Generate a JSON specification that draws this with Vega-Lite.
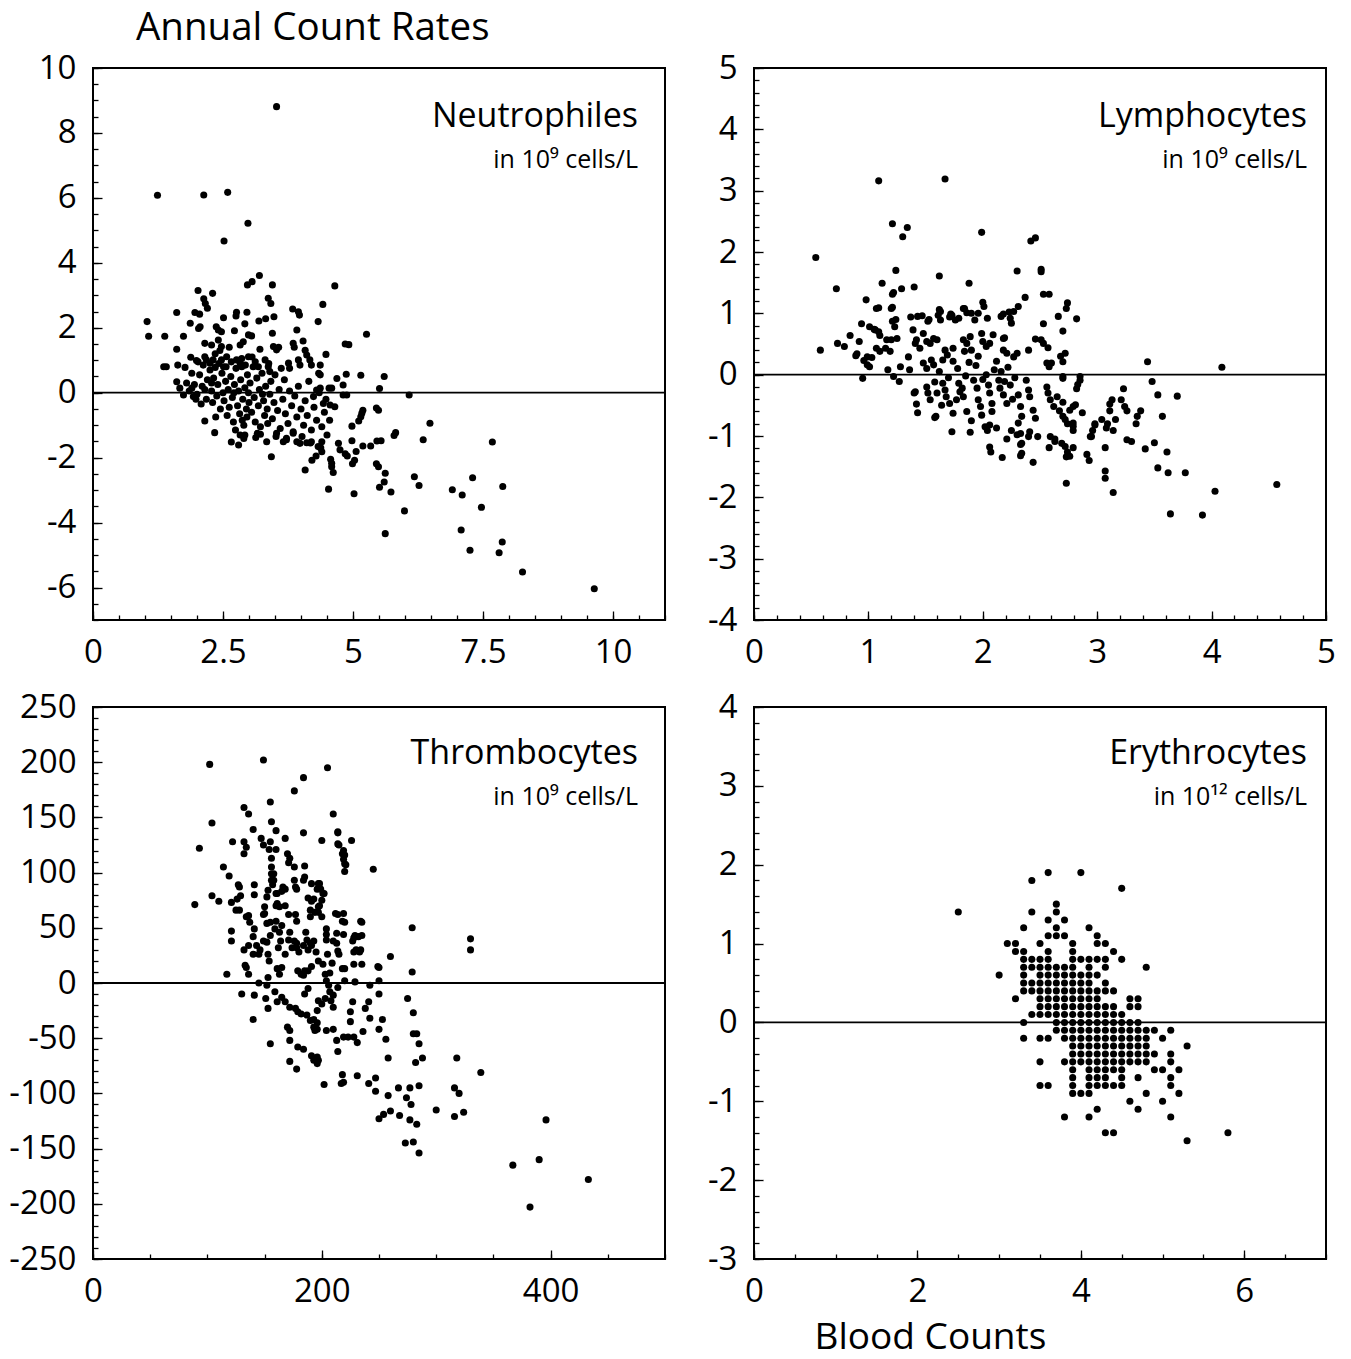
{
"$schema": "https://vega.github.io/schema/vega-lite/v6.json",
"padding": {"left": 7, "top": 7, "right": 5, "bottom": 5},
"config": {
  "font": "Open Sans",
  "view": {"stroke": "black", "strokeWidth": 2},
  "axis": {"domain": false, "grid": false, "tickColor": "black", "tickWidth": 1.3, "labelFont": "Open Sans", "labelFontSize": 33, "labelColor": "black", "labelFlush": false, "labelOverlap": false}
},
"datasets": {
"neutrophiles": [
{"count":3.53,"rate":8.81},{"count":1.24,"rate":6.08},{"count":2.13,"rate":6.09},{"count":2.59,"rate":6.17},{"count":2.98,"rate":5.22},{"count":2.52,"rate":4.67},{"count":3.2,"rate":3.61},{"count":2.97,"rate":3.32},{"count":3.06,"rate":3.42},{"count":3.45,"rate":3.32},{"count":4.65,"rate":3.29},{"count":2.02,"rate":3.15},{"count":2.3,"rate":3.06},{"count":2.13,"rate":2.89},{"count":2.16,"rate":2.75},{"count":3.37,"rate":2.91},{"count":3.42,"rate":2.75},{"count":4.42,"rate":2.72},{"count":3.84,"rate":2.58},{"count":3.97,"rate":2.39},{"count":1.61,"rate":2.47},{"count":1.96,"rate":2.47},{"count":2.51,"rate":2.31},{"count":2.76,"rate":2.48},{"count":2.96,"rate":2.48},{"count":3.19,"rate":2.21},{"count":3.32,"rate":2.28},{"count":3.48,"rate":2.34},{"count":4.33,"rate":2.19},{"count":1.04,"rate":2.19},{"count":1.07,"rate":1.74},{"count":1.38,"rate":1.74},{"count":1.74,"rate":1.74},{"count":5.26,"rate":1.8},{"count":4.85,"rate":1.5},{"count":4.92,"rate":1.48},{"count":1.61,"rate":1.34},{"count":1.36,"rate":0.8},{"count":1.41,"rate":0.8},{"count":5.15,"rate":0.54},{"count":5.6,"rate":0.5},{"count":5.51,"rate":0.13},{"count":6.08,"rate":-0.07},{"count":6.48,"rate":-0.94},{"count":6.35,"rate":-1.45},{"count":5.82,"rate":-1.23},{"count":5.79,"rate":-1.32},{"count":5.45,"rate":-0.47},{"count":5.49,"rate":-0.54},{"count":5.19,"rate":-0.54},{"count":5.15,"rate":-0.74},{"count":5.11,"rate":-0.87},{"count":4.98,"rate":-1.03},{"count":4.98,"rate":-1.48},{"count":5.06,"rate":-1.81},{"count":5.03,"rate":-2.08},{"count":4.99,"rate":-2.19},{"count":4.85,"rate":-1.88},{"count":4.89,"rate":-1.95},{"count":5.19,"rate":-1.64},{"count":5.34,"rate":-1.64},{"count":5.46,"rate":-1.49},{"count":5.54,"rate":-1.48},{"count":5.45,"rate":-2.19},{"count":5.49,"rate":-2.28},{"count":5.62,"rate":-2.48},{"count":5.6,"rate":-2.75},{"count":5.51,"rate":-2.91},{"count":5.73,"rate":-3.06},{"count":5.62,"rate":-4.34},{"count":5.99,"rate":-3.64},{"count":6.18,"rate":-2.59},{"count":6.27,"rate":-2.86},{"count":6.91,"rate":-2.99},{"count":7.1,"rate":-3.15},{"count":7.3,"rate":-2.62},{"count":7.68,"rate":-1.52},{"count":7.47,"rate":-3.53},{"count":7.88,"rate":-2.89},{"count":7.08,"rate":-4.23},{"count":7.25,"rate":-4.85},{"count":7.87,"rate":-4.6},{"count":7.81,"rate":-4.93},{"count":8.26,"rate":-5.52},{"count":9.64,"rate":-6.04},{"count":4.53,"rate":-2.97},{"count":5.02,"rate":-3.11},{"count":4.08,"rate":-2.38},{"count":4.21,"rate":-2.08},{"count":4.29,"rate":-1.95},{"count":4.59,"rate":-2.28},{"count":4.62,"rate":-2.46},{"count":4.57,"rate":-2.05},{"count":3.43,"rate":-1.97},{"count":2.15,"rate":-0.87},{"count":2.34,"rate":-1.23},{"count":2.66,"rate":-1.52},{"count":2.8,"rate":-1.61},{"count":2.9,"rate":-1.41},{"count":3.13,"rate":-1.38},{"count":3.22,"rate":-1.28},
{"count":2.2,"rate":2.6},{"count":2.05,"rate":2.42},{"count":2.75,"rate":2.36},{"count":3.95,"rate":2.49},{"count":1.87,"rate":2.14},{"count":2.06,"rate":2.03},{"count":2.03,"rate":1.98},{"count":2.37,"rate":2.03},{"count":2.41,"rate":1.93},{"count":2.47,"rate":1.88},{"count":2.72,"rate":1.91},{"count":2.92,"rate":2.12},{"count":2.99,"rate":1.78},{"count":3.05,"rate":1.75},{"count":3.45,"rate":1.83},{"count":3.92,"rate":1.93},{"count":2.15,"rate":1.52},{"count":2.28,"rate":1.47},{"count":2.41,"rate":1.62},{"count":2.47,"rate":1.42},{"count":2.62,"rate":1.4},{"count":2.83,"rate":1.47},{"count":2.89,"rate":1.57},{"count":3.21,"rate":1.34},{"count":3.47,"rate":1.42},{"count":3.53,"rate":1.32},{"count":3.57,"rate":1.4},{"count":3.85,"rate":1.52},{"count":3.87,"rate":1.4},{"count":4.04,"rate":1.59},{"count":4.08,"rate":1.31},{"count":4.11,"rate":1.16},{"count":4.48,"rate":1.18},{"count":1.63,"rate":0.85},{"count":1.77,"rate":0.78},{"count":1.88,"rate":1.09},{"count":1.99,"rate":0.99},{"count":2.15,"rate":1.11},{"count":2.18,"rate":1.01},{"count":2.25,"rate":0.91},{"count":2.31,"rate":1.01},{"count":2.35,"rate":0.78},{"count":2.47,"rate":1.01},{"count":2.51,"rate":0.8},{"count":2.57,"rate":1.11},{"count":2.76,"rate":1.01},{"count":2.83,"rate":0.91},{"count":2.86,"rate":0.8},{"count":2.99,"rate":1.11},{"count":3.12,"rate":0.95},{"count":3.18,"rate":0.8},{"count":3.31,"rate":1.01},{"count":3.37,"rate":0.8},{"count":3.4,"rate":0.65},{"count":3.76,"rate":0.91},{"count":3.78,"rate":0.75},{"count":3.95,"rate":1.01},{"count":3.98,"rate":0.85},{"count":4.17,"rate":1.01},{"count":4.2,"rate":0.85},{"count":4.37,"rate":0.85},{"count":4.34,"rate":0.6},{"count":4.37,"rate":0.55},{"count":4.69,"rate":0.44},{"count":4.87,"rate":0.57},{"count":4.81,"rate":0.24},{"count":4.54,"rate":0.14},{"count":4.59,"rate":0.14},{"count":4.81,"rate":-0.07},{"count":4.88,"rate":-0.07},{"count":4.3,"rate":0.08},{"count":4.37,"rate":0.14},{"count":1.61,"rate":0.34},{"count":1.67,"rate":0.14},{"count":1.74,"rate":-0.07},{"count":1.9,"rate":0.14},{"count":1.93,"rate":-0.12},{"count":2.92,"rate":-1.3},{"count":3.34,"rate":-1.51},{"count":3.53,"rate":-1.25},{"count":3.66,"rate":-1.51},{"count":3.72,"rate":-1.4},{"count":3.85,"rate":-1.25},{"count":3.92,"rate":-1.51},{"count":3.98,"rate":-1.56},{"count":4.11,"rate":-1.54},{"count":4.2,"rate":-1.51},{"count":4.33,"rate":-1.66},{"count":4.4,"rate":-1.51},{"count":4.4,"rate":-1.82},{"count":4.59,"rate":-2.17},{"count":4.72,"rate":-1.56},{"count":4.75,"rate":-1.76},{"count":5.17,"rate":-0.63},{"count":4.43,"rate":-0.33},{"count":4.56,"rate":-0.38},{"count":4.65,"rate":-0.43},{"count":4.24,"rate":-0.12},
{"count":1.8,"rate":0.3},{"count":1.85,"rate":0.05},{"count":1.95,"rate":0.25},{"count":2.0,"rate":-0.05},{"count":2.05,"rate":0.55},{"count":2.1,"rate":0.2},{"count":2.12,"rate":0.85},{"count":2.18,"rate":-0.2},{"count":2.2,"rate":0.4},{"count":1.9,"rate":0.6},{"count":2.02,"rate":0.95},{"count":2.15,"rate":0.1},{"count":1.98,"rate":-0.2},{"count":2.08,"rate":-0.35},{"count":2.25,"rate":0.7},{"count":2.28,"rate":0.05},{"count":2.3,"rate":-0.3},{"count":2.32,"rate":0.45},{"count":2.35,"rate":1.2},{"count":2.38,"rate":-0.1},{"count":2.4,"rate":0.25},{"count":2.42,"rate":0.9},{"count":2.45,"rate":-0.5},{"count":2.48,"rate":0.6},{"count":2.5,"rate":0.0},{"count":2.52,"rate":-0.25},{"count":2.55,"rate":0.35},{"count":2.58,"rate":-0.7},{"count":2.6,"rate":0.1},{"count":2.44,"rate":1.3},{"count":2.36,"rate":-0.75},{"count":2.56,"rate":0.8},{"count":2.62,"rate":-0.45},{"count":2.28,"rate":0.3},{"count":2.65,"rate":0.5},{"count":2.68,"rate":-0.15},{"count":2.7,"rate":-0.9},{"count":2.72,"rate":0.25},{"count":2.75,"rate":0.75},{"count":2.78,"rate":-0.4},{"count":2.8,"rate":0.05},{"count":2.82,"rate":-0.65},{"count":2.84,"rate":0.4},{"count":2.86,"rate":1.05},{"count":2.88,"rate":-0.2},{"count":2.9,"rate":-1.0},{"count":2.92,"rate":0.15},{"count":2.95,"rate":-0.5},{"count":2.97,"rate":0.55},{"count":3.0,"rate":-0.3},{"count":2.74,"rate":-1.15},{"count":2.66,"rate":0.95},{"count":2.93,"rate":0.85},{"count":2.99,"rate":0.0},{"count":2.83,"rate":-1.3},{"count":2.71,"rate":0.0},{"count":2.87,"rate":-0.85},{"count":2.96,"rate":-0.75},{"count":3.02,"rate":0.3},{"count":3.05,"rate":-0.6},{"count":3.08,"rate":0.8},{"count":3.1,"rate":-0.15},{"count":3.12,"rate":-0.9},{"count":3.15,"rate":0.45},{"count":3.18,"rate":-0.4},{"count":3.2,"rate":0.1},{"count":3.22,"rate":-1.05},{"count":3.25,"rate":0.6},{"count":3.28,"rate":-0.25},{"count":3.3,"rate":-0.7},{"count":3.32,"rate":0.2},{"count":3.35,"rate":-0.5},{"count":3.38,"rate":0.9},{"count":3.4,"rate":-0.05},{"count":3.06,"rate":1.1},{"count":3.16,"rate":-1.25},{"count":3.26,"rate":-0.05},{"count":3.36,"rate":-0.95},{"count":3.42,"rate":0.35},{"count":3.45,"rate":-0.8},{"count":3.48,"rate":-0.3},{"count":3.5,"rate":0.55},{"count":3.55,"rate":-0.55},{"count":3.58,"rate":0.1},{"count":3.6,"rate":-1.1},{"count":3.65,"rate":-0.2},{"count":3.68,"rate":0.4},{"count":3.7,"rate":-0.65},{"count":3.75,"rate":-0.95},{"count":3.78,"rate":0.05},{"count":3.82,"rate":-0.4},{"count":3.85,"rate":-1.2},{"count":3.88,"rate":-0.1},{"count":3.52,"rate":-1.35},{"count":3.62,"rate":0.75},{"count":3.72,"rate":-1.45},{"count":3.92,"rate":-0.75},{"count":3.95,"rate":0.2},{"count":4.0,"rate":-0.5},{"count":4.05,"rate":-1.0},{"count":4.08,"rate":-0.25},{"count":4.12,"rate":-0.7},{"count":4.15,"rate":0.35},{"count":4.2,"rate":-1.15},{"count":4.25,"rate":-0.45},{"count":4.3,"rate":-0.85},{"count":4.35,"rate":0.0},{"count":4.4,"rate":-1.05},{"count":4.45,"rate":-0.6},{"count":4.5,"rate":-1.3},{"count":4.55,"rate":-0.85},{"count":4.02,"rate":-1.35},{"count":4.18,"rate":-1.55},{"count":4.38,"rate":-1.7},{"count":4.48,"rate":-0.2}
],
"lymphocytes": [
{"count":1.09,"rate":3.16},{"count":1.67,"rate":3.19},{"count":0.54,"rate":1.91},{"count":1.21,"rate":2.46},{"count":1.34,"rate":2.4},{"count":1.3,"rate":2.25},{"count":1.99,"rate":2.32},{"count":2.42,"rate":2.18},{"count":2.46,"rate":2.23},{"count":0.72,"rate":1.4},{"count":1.12,"rate":1.49},{"count":1.24,"rate":1.7},{"count":1.29,"rate":1.4},{"count":1.21,"rate":1.31},{"count":1.4,"rate":1.43},{"count":1.62,"rate":1.61},{"count":1.88,"rate":1.49},{"count":2.3,"rate":1.69},{"count":2.51,"rate":1.68},{"count":2.51,"rate":1.72},{"count":2.53,"rate":1.31},{"count":2.58,"rate":1.31},{"count":2.37,"rate":1.26},{"count":0.98,"rate":1.22},{"count":2.0,"rate":1.18},{"count":2.01,"rate":1.11},{"count":2.31,"rate":1.11},{"count":2.27,"rate":1.03},{"count":2.74,"rate":1.17},{"count":2.73,"rate":1.08},{"count":2.82,"rate":0.91},{"count":2.66,"rate":0.95},{"count":2.7,"rate":0.71},{"count":0.58,"rate":0.4},{"count":0.73,"rate":0.51},{"count":0.79,"rate":0.46},{"count":0.84,"rate":0.64},{"count":0.89,"rate":0.31},{"count":0.94,"rate":0.83},{"count":0.95,"rate":-0.06},{"count":0.99,"rate":0.16},{"count":0.96,"rate":0.23},{"count":1.01,"rate":0.78},{"count":1.05,"rate":0.74},{"count":1.07,"rate":1.08},{"count":1.1,"rate":0.64},{"count":1.2,"rate":1.08},{"count":1.21,"rate":0.87},{"count":1.23,"rate":0.78},{"count":1.37,"rate":0.94},{"count":1.43,"rate":0.95},{"count":1.52,"rate":0.87},{"count":1.62,"rate":1.06},{"count":1.61,"rate":0.97},{"count":1.71,"rate":0.94},{"count":1.72,"rate":0.99},{"count":1.84,"rate":1.08},{"count":1.86,"rate":1.01},{"count":2.04,"rate":0.92},{"count":2.16,"rate":0.95},{"count":2.23,"rate":1.02},{"count":2.19,"rate":0.6},{"count":2.53,"rate":0.83},{"count":2.46,"rate":0.58},{"count":2.4,"rate":0.4},{"count":2.53,"rate":0.51},{"count":2.57,"rate":0.44},{"count":2.56,"rate":0.19},{"count":2.6,"rate":0.19},{"count":2.68,"rate":0.3},{"count":3.44,"rate":0.21},{"count":4.09,"rate":0.12},{"count":3.48,"rate":-0.11},{"count":3.53,"rate":-0.33},{"count":3.7,"rate":-0.35},{"count":3.57,"rate":-0.68},{"count":3.5,"rate":-1.11},{"count":3.42,"rate":-1.21},{"count":3.61,"rate":-1.26},{"count":3.53,"rate":-1.52},{"count":3.62,"rate":-1.6},{"count":3.77,"rate":-1.6},{"count":3.64,"rate":-2.27},{"count":3.92,"rate":-2.29},{"count":4.03,"rate":-1.9},{"count":4.57,"rate":-1.79},{"count":3.38,"rate":-0.59},{"count":3.35,"rate":-0.68},{"count":3.34,"rate":-0.8},{"count":3.26,"rate":-1.06},{"count":3.3,"rate":-1.09},{"count":3.23,"rate":-0.23},{"count":3.21,"rate":-0.41},{"count":3.24,"rate":-0.52},{"count":3.26,"rate":-0.59},{"count":3.13,"rate":-0.41},{"count":3.11,"rate":-0.48},{"count":3.11,"rate":-0.59},{"count":3.14,"rate":-0.91},{"count":3.16,"rate":-0.73},{"count":3.08,"rate":-0.87},{"count":3.09,"rate":-0.8},{"count":3.04,"rate":-0.73},{"count":2.98,"rate":-0.8},{"count":2.94,"rate":-1.01},{"count":2.96,"rate":-0.91},{"count":3.07,"rate":-1.19},{"count":3.07,"rate":-1.57},{"count":3.07,"rate":-1.69},{"count":3.14,"rate":-1.92},{"count":2.91,"rate":-1.3},{"count":2.93,"rate":-1.4},{"count":2.73,"rate":-1.77},{"count":2.76,"rate":-1.33},{"count":2.74,"rate":-1.26},{"count":2.79,"rate":-1.19},{"count":2.87,"rate":-0.62},{"count":2.85,"rate":-0.09},{"count":2.83,"rate":-0.16},{"count":2.82,"rate":-0.23},{"count":2.7,"rate":-0.06},{"count":2.7,"rate":-0.45},{"count":2.79,"rate":-0.52},{"count":2.79,"rate":-0.91},{"count":2.79,"rate":-0.84},{"count":2.74,"rate":-0.8},{"count":2.72,"rate":-0.73},{"count":2.67,"rate":-0.59},{"count":2.63,"rate":-1.05},{"count":2.69,"rate":-1.12},{"count":2.58,"rate":-1.19},{"count":2.44,"rate":-1.43},{"count":2.33,"rate":-1.32},{"count":2.33,"rate":-1.14},{"count":2.4,"rate":-1.01},{"count":2.3,"rate":-0.98},{"count":2.25,"rate":-0.91},{"count":2.17,"rate":-1.35},{"count":2.21,"rate":-1.05},{"count":2.06,"rate":-1.18},{"count":2.07,"rate":-1.26},{"count":2.12,"rate":-0.87},{"count":2.04,"rate":-0.91},{"count":1.89,"rate":-0.94},{"count":1.73,"rate":-0.93},{"count":1.58,"rate":-0.7},{"count":1.43,"rate":-0.62},{"count":1.42,"rate":-0.48},{"count":1.4,"rate":-0.3},
{"count":1.22,"rate":1.34},{"count":1.09,"rate":1.09},{"count":1.21,"rate":1.1},{"count":1.24,"rate":0.9},{"count":1.47,"rate":0.96},{"count":1.53,"rate":0.9},{"count":1.63,"rate":1.03},{"count":1.63,"rate":0.89},{"count":1.73,"rate":0.97},{"count":1.76,"rate":0.89},{"count":1.79,"rate":0.92},{"count":1.83,"rate":1.08},{"count":1.9,"rate":1.0},{"count":1.93,"rate":0.89},{"count":1.96,"rate":1.0},{"count":2.18,"rate":0.99},{"count":2.24,"rate":0.92},{"count":2.25,"rate":0.84},{"count":1.06,"rate":0.73},{"count":1.09,"rate":0.7},{"count":0.92,"rate":0.54},{"count":0.9,"rate":0.34},{"count":1.01,"rate":0.13},{"count":0.99,"rate":0.29},{"count":1.03,"rate":0.28},{"count":1.07,"rate":0.43},{"count":1.1,"rate":0.38},{"count":1.15,"rate":0.43},{"count":1.19,"rate":0.38},{"count":1.16,"rate":0.57},{"count":1.2,"rate":0.57},{"count":1.25,"rate":0.59},{"count":1.17,"rate":0.08},{"count":1.22,"rate":-0.03},{"count":1.27,"rate":-0.11},{"count":1.28,"rate":0.13},{"count":1.35,"rate":0.29},{"count":1.36,"rate":0.08},{"count":1.39,"rate":0.73},{"count":1.42,"rate":0.57},{"count":1.41,"rate":0.51},{"count":1.45,"rate":0.43},{"count":1.48,"rate":0.67},{"count":1.51,"rate":0.54},{"count":1.54,"rate":0.51},{"count":1.57,"rate":0.59},{"count":1.6,"rate":0.57},{"count":1.48,"rate":0.19},{"count":1.51,"rate":0.1},{"count":1.55,"rate":0.24},{"count":1.57,"rate":0.16},{"count":1.67,"rate":0.4},{"count":1.69,"rate":0.32},{"count":1.65,"rate":0.24},{"count":1.74,"rate":0.43},{"count":1.83,"rate":0.57},{"count":1.86,"rate":0.51},{"count":1.89,"rate":0.62},{"count":1.84,"rate":0.38},{"count":1.9,"rate":0.4},{"count":1.99,"rate":0.67},{"count":2.0,"rate":0.54},{"count":2.03,"rate":0.46},{"count":2.06,"rate":0.51},{"count":2.09,"rate":0.65},{"count":2.18,"rate":0.59},{"count":2.18,"rate":0.4},{"count":2.21,"rate":0.35},{"count":2.27,"rate":0.29},{"count":2.3,"rate":0.35},{"count":2.51,"rate":0.57},{"count":2.58,"rate":0.13},{"count":2.7,"rate":0.21},{"count":2.72,"rate":0.35},{"count":1.41,"rate":-0.28},{"count":1.51,"rate":-0.2},{"count":1.52,"rate":-0.3},{"count":1.54,"rate":-0.41},{"count":1.6,"rate":-0.3},{"count":1.59,"rate":-0.68},{"count":1.65,"rate":-0.14},{"count":1.67,"rate":-0.25},{"count":1.68,"rate":-0.36},{"count":1.71,"rate":-0.47},{"count":1.74,"rate":-0.63},{"count":1.79,"rate":-0.14},{"count":1.8,"rate":-0.28},{"count":1.83,"rate":-0.36},{"count":1.86,"rate":-0.6},{"count":1.77,"rate":-0.41},{"count":1.92,"rate":-0.09},{"count":1.95,"rate":-0.22},{"count":1.96,"rate":-0.41},{"count":1.98,"rate":-0.52},{"count":1.99,"rate":-0.66},{"count":2.03,"rate":0.0},{"count":2.05,"rate":-0.17},{"count":2.06,"rate":-0.3},{"count":2.08,"rate":-0.47},{"count":2.02,"rate":-0.85},{"count":2.06,"rate":-0.82},{"count":2.14,"rate":-0.09},{"count":2.15,"rate":-0.22},{"count":2.18,"rate":-0.33},{"count":2.21,"rate":-0.47},{"count":2.19,"rate":-0.11},{"count":2.24,"rate":-0.17},{"count":2.31,"rate":-0.33},{"count":2.33,"rate":-0.52},{"count":2.34,"rate":-0.68},{"count":2.31,"rate":-0.79},{"count":2.34,"rate":-1.12},{"count":2.34,"rate":-1.28},{"count":2.38,"rate":-0.09},{"count":2.4,"rate":-0.25},{"count":2.41,"rate":-0.36},{"count":2.44,"rate":-0.58},{"count":2.46,"rate":-0.71},{"count":2.41,"rate":-0.93},{"count":2.48,"rate":-1.01},{"count":2.56,"rate":-0.2},{"count":2.57,"rate":-0.3},{"count":2.59,"rate":-0.41},{"count":2.62,"rate":-0.52},{"count":2.65,"rate":-0.36},{"count":2.7,"rate":-0.68},{"count":2.76,"rate":-0.58},{"count":2.79,"rate":-0.79},{"count":2.7,"rate":-0.03},{"count":2.85,"rate":-0.03},{"count":2.81,"rate":-0.49},{"count":2.59,"rate":-1.01},{"count":2.63,"rate":-1.09},{"count":2.72,"rate":-1.17},{"count":2.73,"rate":-1.34},{"count":2.95,"rate":-1.01},{"count":2.98,"rate":-0.82},{"count":2.33,"rate":-0.96},
{"count":1.62,"rate":0.05},{"count":1.7,"rate":-0.05},{"count":1.78,"rate":0.1},{"count":1.85,"rate":-0.02},{"count":1.88,"rate":0.2},{"count":1.94,"rate":0.15},{"count":2.0,"rate":-0.08},{"count":2.1,"rate":0.08},{"count":2.12,"rate":0.22},{"count":2.16,"rate":0.05},{"count":2.22,"rate":0.12},{"count":2.28,"rate":-0.05},{"count":1.58,"rate":-0.12},{"count":1.74,"rate":0.22},{"count":1.82,"rate":-0.22},{"count":1.96,"rate":0.3},{"count":2.08,"rate":-0.6},{"count":2.26,"rate":-0.4},{"count":1.64,"rate":-0.5},{"count":1.9,"rate":-0.75}
],
"thrombocytes": [
{"count":102,"rate":198},{"count":149,"rate":202},{"count":205,"rate":195},{"count":184,"rate":186},{"count":176,"rate":174},{"count":155,"rate":164},{"count":104,"rate":145},{"count":132,"rate":159},{"count":136,"rate":153},{"count":210,"rate":153},{"count":93,"rate":122},{"count":122,"rate":128},{"count":132,"rate":128},{"count":134,"rate":123},{"count":132,"rate":117},{"count":140,"rate":139},{"count":147,"rate":131},{"count":149,"rate":125},{"count":155,"rate":128},{"count":154,"rate":121},{"count":160,"rate":121},{"count":156,"rate":113},{"count":168,"rate":131},{"count":170,"rate":117},{"count":172,"rate":113},{"count":171,"rate":109},{"count":184,"rate":136},{"count":200,"rate":129},{"count":214,"rate":136},{"count":215,"rate":125},{"count":218,"rate":117},{"count":219,"rate":112},{"count":220,"rate":101},{"count":221,"rate":107},{"count":226,"rate":129},{"count":245,"rate":103},{"count":156,"rate":105},{"count":156,"rate":99},{"count":114,"rate":105},{"count":119,"rate":97},{"count":89,"rate":71},{"count":104,"rate":79},{"count":110,"rate":74},{"count":121,"rate":73},{"count":125,"rate":66},{"count":127,"rate":89},{"count":129,"rate":79},{"count":134,"rate":60},{"count":137,"rate":55},{"count":141,"rate":49},{"count":141,"rate":89},{"count":121,"rate":47},{"count":121,"rate":38},{"count":150,"rate":69},{"count":149,"rate":62},{"count":152,"rate":54},{"count":156,"rate":93},{"count":157,"rate":89},{"count":160,"rate":81},{"count":160,"rate":70},{"count":165,"rate":83},{"count":168,"rate":70},{"count":171,"rate":62},{"count":176,"rate":105},{"count":176,"rate":93},{"count":178,"rate":85},{"count":177,"rate":62},{"count":178,"rate":56},{"count":184,"rate":93},{"count":188,"rate":77},{"count":190,"rate":66},{"count":191,"rate":74},{"count":197,"rate":90},{"count":199,"rate":85},{"count":201,"rate":81},{"count":198,"rate":70},{"count":197,"rate":64},{"count":200,"rate":60},{"count":204,"rate":44},{"count":210,"rate":38},{"count":213,"rate":36},{"count":215,"rate":26},{"count":218,"rate":13},{"count":214,"rate":62},{"count":218,"rate":56},{"count":228,"rate":41},{"count":232,"rate":42},{"count":234,"rate":30},{"count":228,"rate":28},{"count":234,"rate":56},{"count":134,"rate":14},{"count":132,"rate":30},{"count":117,"rate":8},{"count":140,"rate":42},{"count":143,"rate":34},{"count":145,"rate":26},{"count":149,"rate":38},{"count":153,"rate":26},{"count":154,"rate":20},{"count":160,"rate":56},{"count":163,"rate":46},{"count":164,"rate":38},{"count":162,"rate":32},{"count":168,"rate":26},{"count":172,"rate":46},{"count":176,"rate":38},{"count":178,"rate":32},{"count":180,"rate":28},{"count":184,"rate":34},{"count":186,"rate":46},{"count":188,"rate":30},{"count":191,"rate":34},{"count":193,"rate":38},{"count":195,"rate":28},{"count":197,"rate":20},{"count":191,"rate":15},{"count":188,"rate":11},{"count":184,"rate":7},{"count":205,"rate":26},{"count":209,"rate":18},{"count":207,"rate":9},{"count":219,"rate":44},{"count":227,"rate":38},{"count":249,"rate":15},{"count":260,"rate":24},{"count":279,"rate":50},{"count":279,"rate":10},{"count":330,"rate":40},{"count":330,"rate":30},{"count":339,"rate":-81},{"count":367,"rate":-165},{"count":390,"rate":-160},{"count":396,"rate":-124},{"count":382,"rate":-203},{"count":433,"rate":-178},
{"count":156,"rate":146},{"count":160,"rate":138},{"count":185,"rate":106},{"count":185,"rate":96},{"count":158,"rate":99},{"count":158,"rate":93},{"count":153,"rate":84},{"count":152,"rate":78},{"count":161,"rate":81},{"count":166,"rate":87},{"count":168,"rate":85},{"count":177,"rate":87},{"count":150,"rate":63},{"count":155,"rate":55},{"count":161,"rate":72},{"count":163,"rate":69},{"count":136,"rate":34},{"count":140,"rate":26},{"count":146,"rate":30},{"count":152,"rate":37},{"count":155,"rate":43},{"count":159,"rate":49},{"count":165,"rate":52},{"count":171,"rate":39},{"count":174,"rate":32},{"count":178,"rate":36},{"count":187,"rate":39},{"count":190,"rate":36},{"count":191,"rate":90},{"count":196,"rate":85},{"count":198,"rate":90},{"count":202,"rate":81},{"count":200,"rate":75},{"count":197,"rate":69},{"count":194,"rate":64},{"count":190,"rate":60},{"count":193,"rate":76},{"count":204,"rate":49},{"count":204,"rate":39},{"count":213,"rate":45},{"count":214,"rate":29},{"count":212,"rate":63},{"count":219,"rate":63},{"count":220,"rate":55},{"count":229,"rate":43},{"count":235,"rate":43},{"count":235,"rate":55},{"count":230,"rate":30},{"count":233,"rate":28},{"count":214,"rate":137},{"count":214,"rate":126},{"count":219,"rate":120},{"count":220,"rate":116},{"count":220,"rate":108},{"count":128,"rate":87},{"count":126,"rate":76},{"count":128,"rate":66},{"count":141,"rate":80},{"count":136,"rate":61},
{"count":130,"rate":-10},{"count":141,"rate":-11},{"count":140,"rate":-33},{"count":136,"rate":8},{"count":133,"rate":16},{"count":145,"rate":0},{"count":152,"rate":-2},{"count":153,"rate":5},{"count":151,"rate":-14},{"count":153,"rate":-23},{"count":155,"rate":-55},{"count":159,"rate":-8},{"count":161,"rate":-17},{"count":165,"rate":-13},{"count":163,"rate":8},{"count":165,"rate":14},{"count":161,"rate":13},{"count":168,"rate":-17},{"count":172,"rate":-22},{"count":177,"rate":-23},{"count":179,"rate":-26},{"count":182,"rate":-28},{"count":170,"rate":-40},{"count":172,"rate":-43},{"count":172,"rate":-52},{"count":172,"rate":-71},{"count":178,"rate":-78},{"count":179,"rate":-58},{"count":184,"rate":-60},{"count":187,"rate":-29},{"count":190,"rate":-34},{"count":193,"rate":-33},{"count":196,"rate":-36},{"count":193,"rate":-40},{"count":194,"rate":-43},{"count":196,"rate":-42},{"count":191,"rate":-66},{"count":193,"rate":-70},{"count":196,"rate":-67},{"count":197,"rate":-70},{"count":196,"rate":-73},{"count":185,"rate":-10},{"count":188,"rate":-5},{"count":185,"rate":11},{"count":182,"rate":8},{"count":179,"rate":11},{"count":196,"rate":-25},{"count":201,"rate":17},{"count":203,"rate":8},{"count":204,"rate":2},{"count":206,"rate":-2},{"count":207,"rate":-8},{"count":210,"rate":-11},{"count":208,"rate":-16},{"count":197,"rate":-16},{"count":200,"rate":-19},{"count":203,"rate":-14},{"count":210,"rate":-22},{"count":210,"rate":-42},{"count":204,"rate":-43},{"count":213,"rate":-52},{"count":214,"rate":-62},{"count":202,"rate":-92},{"count":220,"rate":13},{"count":220,"rate":2},{"count":214,"rate":-4},{"count":229,"rate":1},{"count":228,"rate":17},{"count":235,"rate":17},{"count":242,"rate":-2},{"count":250,"rate":14},{"count":250,"rate":2},{"count":227,"rate":-17},{"count":225,"rate":-26},{"count":225,"rate":-35},{"count":241,"rate":-17},{"count":238,"rate":-23},{"count":242,"rate":-32},{"count":250,"rate":-10},{"count":236,"rate":-44},{"count":250,"rate":-42},{"count":253,"rate":-33},{"count":256,"rate":-51},{"count":258,"rate":-68},{"count":219,"rate":-49},{"count":223,"rate":-49},{"count":228,"rate":-49},{"count":231,"rate":-54},{"count":218,"rate":-83},{"count":217,"rate":-91},{"count":219,"rate":-90},{"count":231,"rate":-84},{"count":241,"rate":-91},{"count":247,"rate":-98},{"count":247,"rate":-86},{"count":258,"rate":-102},{"count":250,"rate":-123},{"count":254,"rate":-119},{"count":260,"rate":-116},{"count":267,"rate":-95},{"count":268,"rate":-120},{"count":274,"rate":-104},{"count":277,"rate":-95},{"count":278,"rate":-110},{"count":277,"rate":-124},{"count":283,"rate":-128},{"count":285,"rate":-93},{"count":273,"rate":-145},{"count":280,"rate":-144},{"count":285,"rate":-154},{"count":275,"rate":-14},{"count":280,"rate":-27},{"count":280,"rate":-46},{"count":283,"rate":-46},{"count":285,"rate":-55},{"count":282,"rate":-72},{"count":288,"rate":-68},{"count":300,"rate":-115},{"count":316,"rate":-95},{"count":320,"rate":-100},{"count":316,"rate":-121},{"count":324,"rate":-117},{"count":318,"rate":-68}
],
"erythrocytes": [
{"count":2.5,"rate":1.4},{"count":3.0,"rate":0.6},{"count":3.1,"rate":1.0},{"count":3.2,"rate":1.0},{"count":3.2,"rate":0.9},{"count":3.2,"rate":0.3},
{"count":3.3,"rate":1.2},{"count":3.3,"rate":0.9},{"count":3.3,"rate":0.8},{"count":3.3,"rate":0.7},{"count":3.3,"rate":0.6},{"count":3.3,"rate":0.5},{"count":3.3,"rate":0.4},{"count":3.3,"rate":0.0},{"count":3.3,"rate":-0.2},
{"count":3.4,"rate":1.8},{"count":3.4,"rate":1.4},{"count":3.4,"rate":0.8},{"count":3.4,"rate":0.7},{"count":3.4,"rate":0.5},{"count":3.4,"rate":0.4},{"count":3.4,"rate":0.1},
{"count":3.5,"rate":1.0},{"count":3.5,"rate":0.8},{"count":3.5,"rate":0.7},{"count":3.5,"rate":0.6},{"count":3.5,"rate":0.5},{"count":3.5,"rate":0.4},{"count":3.5,"rate":0.3},{"count":3.5,"rate":0.2},{"count":3.5,"rate":0.1},{"count":3.5,"rate":-0.2},{"count":3.5,"rate":-0.5},{"count":3.5,"rate":-0.8},
{"count":3.6,"rate":1.9},{"count":3.6,"rate":1.3},{"count":3.6,"rate":1.1},{"count":3.6,"rate":0.9},{"count":3.6,"rate":0.8},{"count":3.6,"rate":0.7},{"count":3.6,"rate":0.6},{"count":3.6,"rate":0.5},{"count":3.6,"rate":0.4},{"count":3.6,"rate":0.3},{"count":3.6,"rate":0.2},{"count":3.6,"rate":0.1},{"count":3.6,"rate":-0.2},{"count":3.6,"rate":-0.8},
{"count":3.7,"rate":1.5},{"count":3.7,"rate":1.4},{"count":3.7,"rate":1.2},{"count":3.7,"rate":1.1},{"count":3.7,"rate":0.7},{"count":3.7,"rate":0.6},{"count":3.7,"rate":0.5},{"count":3.7,"rate":0.4},{"count":3.7,"rate":0.3},{"count":3.7,"rate":0.2},{"count":3.7,"rate":0.1},{"count":3.7,"rate":0.0},{"count":3.7,"rate":-0.1},
{"count":3.8,"rate":1.3},{"count":3.8,"rate":1.1},{"count":3.8,"rate":0.7},{"count":3.8,"rate":0.6},{"count":3.8,"rate":0.5},{"count":3.8,"rate":0.4},{"count":3.8,"rate":0.3},{"count":3.8,"rate":0.2},{"count":3.8,"rate":0.1},{"count":3.8,"rate":0.0},{"count":3.8,"rate":-0.1},{"count":3.8,"rate":-0.2},{"count":3.8,"rate":-0.5},{"count":3.8,"rate":-1.2},
{"count":3.9,"rate":1.0},{"count":3.9,"rate":0.9},{"count":3.9,"rate":0.8},{"count":3.9,"rate":0.7},{"count":3.9,"rate":0.6},{"count":3.9,"rate":0.5},{"count":3.9,"rate":0.4},{"count":3.9,"rate":0.3},{"count":3.9,"rate":0.2},{"count":3.9,"rate":0.1},{"count":3.9,"rate":0.0},{"count":3.9,"rate":-0.1},{"count":3.9,"rate":-0.2},{"count":3.9,"rate":-0.3},{"count":3.9,"rate":-0.4},{"count":3.9,"rate":-0.5},{"count":3.9,"rate":-0.6},{"count":3.9,"rate":-0.7},{"count":3.9,"rate":-0.8},{"count":3.9,"rate":-0.9},
{"count":4.0,"rate":1.9},{"count":4.0,"rate":0.8},{"count":4.0,"rate":0.6},{"count":4.0,"rate":0.5},{"count":4.0,"rate":0.4},{"count":4.0,"rate":0.3},{"count":4.0,"rate":0.2},{"count":4.0,"rate":0.1},{"count":4.0,"rate":0.0},{"count":4.0,"rate":-0.1},{"count":4.0,"rate":-0.2},{"count":4.0,"rate":-0.3},{"count":4.0,"rate":-0.4},{"count":4.0,"rate":-0.5},{"count":4.0,"rate":-0.9},
{"count":4.1,"rate":1.2},{"count":4.1,"rate":0.8},{"count":4.1,"rate":0.7},{"count":4.1,"rate":0.6},{"count":4.1,"rate":0.5},{"count":4.1,"rate":0.4},{"count":4.1,"rate":0.3},{"count":4.1,"rate":0.2},{"count":4.1,"rate":0.1},{"count":4.1,"rate":0.0},{"count":4.1,"rate":-0.1},{"count":4.1,"rate":-0.2},{"count":4.1,"rate":-0.3},{"count":4.1,"rate":-0.4},{"count":4.1,"rate":-0.5},{"count":4.1,"rate":-0.6},{"count":4.1,"rate":-0.7},{"count":4.1,"rate":-0.8},{"count":4.1,"rate":-0.9},{"count":4.1,"rate":-1.2},
{"count":4.2,"rate":1.1},{"count":4.2,"rate":1.0},{"count":4.2,"rate":0.8},{"count":4.2,"rate":0.6},{"count":4.2,"rate":0.4},{"count":4.2,"rate":0.3},{"count":4.2,"rate":0.2},{"count":4.2,"rate":0.1},{"count":4.2,"rate":0.0},{"count":4.2,"rate":-0.1},{"count":4.2,"rate":-0.2},{"count":4.2,"rate":-0.3},{"count":4.2,"rate":-0.4},{"count":4.2,"rate":-0.5},{"count":4.2,"rate":-0.6},{"count":4.2,"rate":-0.7},{"count":4.2,"rate":-0.8},{"count":4.2,"rate":-1.1},
{"count":4.3,"rate":1.0},{"count":4.3,"rate":0.8},{"count":4.3,"rate":0.7},{"count":4.3,"rate":0.5},{"count":4.3,"rate":0.4},{"count":4.3,"rate":0.2},{"count":4.3,"rate":0.1},{"count":4.3,"rate":0.0},{"count":4.3,"rate":-0.1},{"count":4.3,"rate":-0.2},{"count":4.3,"rate":-0.3},{"count":4.3,"rate":-0.4},{"count":4.3,"rate":-0.5},{"count":4.3,"rate":-0.6},{"count":4.3,"rate":-0.7},{"count":4.3,"rate":-0.8},{"count":4.3,"rate":-1.4},
{"count":4.4,"rate":0.9},{"count":4.4,"rate":0.4},{"count":4.4,"rate":0.2},{"count":4.4,"rate":0.1},{"count":4.4,"rate":0.0},{"count":4.4,"rate":-0.1},{"count":4.4,"rate":-0.2},{"count":4.4,"rate":-0.3},{"count":4.4,"rate":-0.4},{"count":4.4,"rate":-0.5},{"count":4.4,"rate":-0.6},{"count":4.4,"rate":-0.8},{"count":4.4,"rate":-1.4},
{"count":4.5,"rate":1.7},{"count":4.5,"rate":0.8},{"count":4.5,"rate":0.1},{"count":4.5,"rate":0.0},{"count":4.5,"rate":-0.1},{"count":4.5,"rate":-0.2},{"count":4.5,"rate":-0.3},{"count":4.5,"rate":-0.4},{"count":4.5,"rate":-0.5},{"count":4.5,"rate":-0.6},{"count":4.5,"rate":-0.7},{"count":4.5,"rate":-0.8},
{"count":4.6,"rate":0.3},{"count":4.6,"rate":0.2},{"count":4.6,"rate":0.0},{"count":4.6,"rate":-0.1},{"count":4.6,"rate":-0.2},{"count":4.6,"rate":-0.3},{"count":4.6,"rate":-0.4},{"count":4.6,"rate":-0.5},{"count":4.6,"rate":-1.0},
{"count":4.7,"rate":0.3},{"count":4.7,"rate":0.2},{"count":4.7,"rate":0.0},{"count":4.7,"rate":-0.1},{"count":4.7,"rate":-0.2},{"count":4.7,"rate":-0.3},{"count":4.7,"rate":-0.4},{"count":4.7,"rate":-0.5},{"count":4.7,"rate":-0.7},{"count":4.7,"rate":-1.1},
{"count":4.8,"rate":0.7},{"count":4.8,"rate":-0.1},{"count":4.8,"rate":-0.2},{"count":4.8,"rate":-0.3},{"count":4.8,"rate":-0.4},{"count":4.8,"rate":-0.5},{"count":4.8,"rate":-0.9},
{"count":4.9,"rate":-0.1},{"count":4.9,"rate":-0.4},{"count":4.9,"rate":-0.6},
{"count":5.0,"rate":-0.2},{"count":5.0,"rate":-0.6},{"count":5.0,"rate":-1.0},
{"count":5.1,"rate":-0.1},{"count":5.1,"rate":-0.4},{"count":5.1,"rate":-0.5},{"count":5.1,"rate":-0.7},{"count":5.1,"rate":-0.8},{"count":5.1,"rate":-1.2},
{"count":5.2,"rate":-0.6},{"count":5.2,"rate":-0.9},{"count":5.3,"rate":-0.3},{"count":5.3,"rate":-1.5},{"count":5.8,"rate":-1.4}
]
},
"concat": [
{
  "width": 572, "height": 552,
  "title": {"text": "Annual Count Rates", "anchor": "start", "frame": "group", "dx": 43, "fontSize": 38.5, "fontWeight": "normal", "font": "Open Sans", "color": "black", "baseline": "alphabetic", "offset": -26},
  "layer": [
    {"data": {"name": "neutrophiles"}, "mark": {"type": "circle", "size": 50, "color": "black", "opacity": 1},
     "encoding": {
       "x": {"field": "count", "type": "quantitative", "scale": {"domain": [0, 11], "nice": false, "zero": false}, "axis": {"orient": "bottom", "values": [0,0.5,1,1.5,2,2.5,3,3.5,4,4.5,5,5.5,6,6.5,7,7.5,8,8.5,9,9.5,10,10.5,11], "labels": false, "tickSize": -5, "title": null}},
       "y": {"field": "rate", "type": "quantitative", "scale": {"domain": [-7, 10], "nice": false, "zero": false}, "axis": {"orient": "left", "values": [-7,-6.5,-6,-5.5,-5,-4.5,-4,-3.5,-3,-2.5,-2,-1.5,-1,-0.5,0,0.5,1,1.5,2,2.5,3,3.5,4,4.5,5,5.5,6,6.5,7,7.5,8,8.5,9,9.5,10], "labels": false, "tickSize": -5, "title": null}}
     }},
    {"data": {"values": [{}]}, "mark": {"type": "rule", "color": "black", "strokeWidth": 1.8},
     "encoding": {
       "x": {"datum": 0, "type": "quantitative", "scale": {"domain": [0, 11], "nice": false, "zero": false}, "axis": {"orient": "bottom", "values": [0,2.5,5,7.5,10], "tickSize": -9, "labelPadding": 25, "labelExpr": "'' + datum.value", "title": null}},
       "x2": {"datum": 11},
       "y": {"datum": 0, "type": "quantitative", "scale": {"domain": [-7, 10], "nice": false, "zero": false}, "axis": {"orient": "left", "values": [-6,-4,-2,0,2,4,6,8,10], "tickSize": -9, "labelPadding": 26, "labelExpr": "'' + datum.value", "title": null}}
     }},
    {"data": {"values": [{"label": "Neutrophiles"}]}, "mark": {"type": "text", "align": "right", "baseline": "alphabetic", "dx": -27, "dy": 59, "fontSize": 34, "font": "Open Sans", "color": "black"},
     "encoding": {"x": {"datum": 11, "type": "quantitative", "axis": null}, "y": {"datum": 10, "type": "quantitative", "axis": null}, "text": {"field": "label"}}},
    {"data": {"values": [{"label": "in 10⁹ cells/L"}]}, "mark": {"type": "text", "align": "right", "baseline": "alphabetic", "dx": -27, "dy": 100, "fontSize": 25, "font": "Open Sans", "color": "black"},
     "encoding": {"x": {"datum": 11, "type": "quantitative", "axis": null}, "y": {"datum": 10, "type": "quantitative", "axis": null}, "text": {"field": "label"}}}
  ],
  "resolve": {"axis": {"x": "independent", "y": "independent"}}
},
{
  "width": 572, "height": 552,
  "layer": [
    {"data": {"name": "lymphocytes"}, "mark": {"type": "circle", "size": 50, "color": "black", "opacity": 1},
     "encoding": {
       "x": {"field": "count", "type": "quantitative", "scale": {"domain": [0, 5], "nice": false, "zero": false}, "axis": {"orient": "bottom", "values": [0,0.2,0.4,0.6,0.8,1,1.2,1.4,1.6,1.8,2,2.2,2.4,2.6,2.8,3,3.2,3.4,3.6,3.8,4,4.2,4.4,4.6,4.8,5], "labels": false, "tickSize": -5, "title": null}},
       "y": {"field": "rate", "type": "quantitative", "scale": {"domain": [-4, 5], "nice": false, "zero": false}, "axis": {"orient": "left", "values": [-4,-3.8,-3.6,-3.4,-3.2,-3,-2.8,-2.6,-2.4,-2.2,-2,-1.8,-1.6,-1.4,-1.2,-1,-0.8,-0.6,-0.4,-0.2,0,0.2,0.4,0.6,0.8,1,1.2,1.4,1.6,1.8,2,2.2,2.4,2.6,2.8,3,3.2,3.4,3.6,3.8,4,4.2,4.4,4.6,4.8,5], "labels": false, "tickSize": -5, "title": null}}
     }},
    {"data": {"values": [{}]}, "mark": {"type": "rule", "color": "black", "strokeWidth": 1.8},
     "encoding": {
       "x": {"datum": 0, "type": "quantitative", "scale": {"domain": [0, 5], "nice": false, "zero": false}, "axis": {"orient": "bottom", "values": [0,1,2,3,4,5], "tickSize": -9, "labelPadding": 25, "labelExpr": "'' + datum.value", "title": null}},
       "x2": {"datum": 5},
       "y": {"datum": 0, "type": "quantitative", "scale": {"domain": [-4, 5], "nice": false, "zero": false}, "axis": {"orient": "left", "values": [-4,-3,-2,-1,0,1,2,3,4,5], "tickSize": -9, "labelPadding": 26, "labelExpr": "'' + datum.value", "title": null}}
     }},
    {"data": {"values": [{"label": "Lymphocytes"}]}, "mark": {"type": "text", "align": "right", "baseline": "alphabetic", "dx": -19, "dy": 59, "fontSize": 34, "font": "Open Sans", "color": "black"},
     "encoding": {"x": {"datum": 5, "type": "quantitative", "axis": null}, "y": {"datum": 5, "type": "quantitative", "axis": null}, "text": {"field": "label"}}},
    {"data": {"values": [{"label": "in 10⁹ cells/L"}]}, "mark": {"type": "text", "align": "right", "baseline": "alphabetic", "dx": -19, "dy": 100, "fontSize": 25, "font": "Open Sans", "color": "black"},
     "encoding": {"x": {"datum": 5, "type": "quantitative", "axis": null}, "y": {"datum": 5, "type": "quantitative", "axis": null}, "text": {"field": "label"}}}
  ],
  "resolve": {"axis": {"x": "independent", "y": "independent"}}
},
{
  "width": 572, "height": 552,
  "layer": [
    {"data": {"name": "thrombocytes"}, "mark": {"type": "circle", "size": 50, "color": "black", "opacity": 1},
     "encoding": {
       "x": {"field": "count", "type": "quantitative", "scale": {"domain": [0, 500], "nice": false, "zero": false}, "axis": {"orient": "bottom", "values": [0,50,100,150,200,250,300,350,400,450,500], "labels": false, "tickSize": -5, "title": null}},
       "y": {"field": "rate", "type": "quantitative", "scale": {"domain": [-250, 250], "nice": false, "zero": false}, "axis": {"orient": "left", "values": [-250,-240,-230,-220,-210,-200,-190,-180,-170,-160,-150,-140,-130,-120,-110,-100,-90,-80,-70,-60,-50,-40,-30,-20,-10,0,10,20,30,40,50,60,70,80,90,100,110,120,130,140,150,160,170,180,190,200,210,220,230,240,250], "labels": false, "tickSize": -5, "title": null}}
     }},
    {"data": {"values": [{}]}, "mark": {"type": "rule", "color": "black", "strokeWidth": 1.8},
     "encoding": {
       "x": {"datum": 0, "type": "quantitative", "scale": {"domain": [0, 500], "nice": false, "zero": false}, "axis": {"orient": "bottom", "values": [0,200,400], "tickSize": -9, "labelPadding": 25, "labelExpr": "'' + datum.value", "title": null}},
       "x2": {"datum": 500},
       "y": {"datum": 0, "type": "quantitative", "scale": {"domain": [-250, 250], "nice": false, "zero": false}, "axis": {"orient": "left", "values": [-250,-200,-150,-100,-50,0,50,100,150,200,250], "tickSize": -9, "labelPadding": 26, "labelExpr": "'' + datum.value", "title": null}}
     }},
    {"data": {"values": [{"label": "Thrombocytes"}]}, "mark": {"type": "text", "align": "right", "baseline": "alphabetic", "dx": -27, "dy": 57, "fontSize": 34, "font": "Open Sans", "color": "black"},
     "encoding": {"x": {"datum": 500, "type": "quantitative", "axis": null}, "y": {"datum": 250, "type": "quantitative", "axis": null}, "text": {"field": "label"}}},
    {"data": {"values": [{"label": "in 10⁹ cells/L"}]}, "mark": {"type": "text", "align": "right", "baseline": "alphabetic", "dx": -27, "dy": 98, "fontSize": 25, "font": "Open Sans", "color": "black"},
     "encoding": {"x": {"datum": 500, "type": "quantitative", "axis": null}, "y": {"datum": 250, "type": "quantitative", "axis": null}, "text": {"field": "label"}}}
  ],
  "resolve": {"axis": {"x": "independent", "y": "independent"}}
},
{
  "width": 572, "height": 552,
  "layer": [
    {"data": {"name": "erythrocytes"}, "mark": {"type": "circle", "size": 50, "color": "black", "opacity": 1},
     "encoding": {
       "x": {"field": "count", "type": "quantitative", "scale": {"domain": [0, 7], "nice": false, "zero": false}, "axis": {"orient": "bottom", "values": [0,0.5,1,1.5,2,2.5,3,3.5,4,4.5,5,5.5,6,6.5,7], "labels": false, "tickSize": -5, "title": null}},
       "y": {"field": "rate", "type": "quantitative", "scale": {"domain": [-3, 4], "nice": false, "zero": false}, "axis": {"orient": "left", "values": [-3,-2.8,-2.6,-2.4,-2.2,-2,-1.8,-1.6,-1.4,-1.2,-1,-0.8,-0.6,-0.4,-0.2,0,0.2,0.4,0.6,0.8,1,1.2,1.4,1.6,1.8,2,2.2,2.4,2.6,2.8,3,3.2,3.4,3.6,3.8,4], "labels": false, "tickSize": -5, "title": null}}
     }},
    {"data": {"values": [{}]}, "mark": {"type": "rule", "color": "black", "strokeWidth": 1.8},
     "encoding": {
       "x": {"datum": 0, "type": "quantitative", "scale": {"domain": [0, 7], "nice": false, "zero": false}, "axis": {"orient": "bottom", "values": [0,2,4,6], "tickSize": -9, "labelPadding": 25, "labelExpr": "'' + datum.value", "title": "Blood Counts", "titleFont": "Open Sans", "titleFontSize": 37, "titleFontWeight": "normal", "titleColor": "black", "titleX": 176, "titleY": 89, "titleAlign": "center", "titleBaseline": "alphabetic"}},
       "x2": {"datum": 7},
       "y": {"datum": 0, "type": "quantitative", "scale": {"domain": [-3, 4], "nice": false, "zero": false}, "axis": {"orient": "left", "values": [-3,-2,-1,0,1,2,3,4], "tickSize": -9, "labelPadding": 26, "labelExpr": "'' + datum.value", "title": null}}
     }},
    {"data": {"values": [{"label": "Erythrocytes"}]}, "mark": {"type": "text", "align": "right", "baseline": "alphabetic", "dx": -19, "dy": 57, "fontSize": 34, "font": "Open Sans", "color": "black"},
     "encoding": {"x": {"datum": 7, "type": "quantitative", "axis": null}, "y": {"datum": 4, "type": "quantitative", "axis": null}, "text": {"field": "label"}}},
    {"data": {"values": [{"label": "in 10¹² cells/L"}]}, "mark": {"type": "text", "align": "right", "baseline": "alphabetic", "dx": -19, "dy": 98, "fontSize": 25, "font": "Open Sans", "color": "black"},
     "encoding": {"x": {"datum": 7, "type": "quantitative", "axis": null}, "y": {"datum": 4, "type": "quantitative", "axis": null}, "text": {"field": "label"}}}
  ],
  "resolve": {"axis": {"x": "independent", "y": "independent"}}
}
],
"columns": 2,
"spacing": {"row": 87, "column": 89},
"bounds": "flush"
}
